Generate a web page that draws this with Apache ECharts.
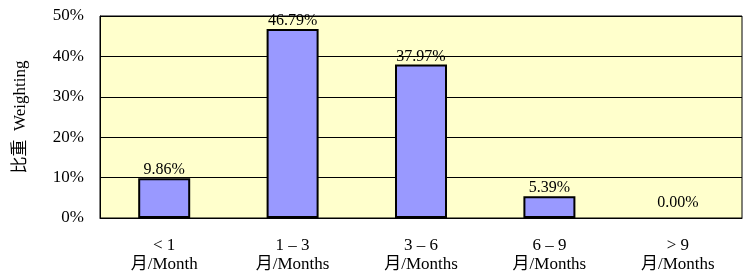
<!DOCTYPE html>
<html>
<head>
<meta charset="utf-8">
<script src="https://cdn.jsdelivr.net/npm/echarts@6/dist/echarts.min.js"></script>
<style>
  html, body { margin: 0; padding: 0; background: #fff; }
  #chart { width: 747px; height: 277px; }
</style>
</head>
<body>
<div id="chart"></div>
<script>
// 数据
const categories = ['< 1\n月/Month', '1 – 3\n月/Months', '3 – 6\n月/Months', '6 – 9\n月/Months', '> 9\n月/Months']
const weights = [9.86, 46.79, 37.97, 5.39, 0.00]
const yTicks = [0, 10, 20, 30, 40, 50]

const serif = '"Liberation Serif", "Times New Roman", "Noto Sans CJK SC", serif'

const chart = echarts.init(document.getElementById('chart'))

chart.setOption({
  animation: false,
  textStyle: { fontFamily: serif, color: '#000' },
  grid: {
    left: 100,
    right: 5,
    top: 16,
    bottom: 59,
    show: true,
    backgroundColor: '#FFFFCC',
    borderColor: '#000',
    borderWidth: 1
  },
  xAxis: {
    type: 'category',
    data: categories,
    axisLine: { lineStyle: { color: '#000', width: 1 } },
    axisTick: { inside: true, length: 5, lineStyle: { color: '#000' } },
    axisLabel: {
      color: '#000',
      fontFamily: serif,
      fontSize: 17,
      lineHeight: 19,
      margin: 18,
      interval: 0
    }
  },
  yAxis: {
    type: 'value',
    min: yTicks[0],
    max: yTicks[yTicks.length - 1],
    interval: 10,
    name: '比重  Weighting',
    nameLocation: 'middle',
    nameRotate: 90,
    nameGap: 71,
    nameTextStyle: { color: '#000', fontFamily: serif, fontSize: 17 },
    axisLine: { show: true, lineStyle: { color: '#000' } },
    axisTick: { show: false },
    axisLabel: {
      color: '#000',
      fontFamily: serif,
      fontSize: 17,
      margin: 16,
      formatter: '{value}%'
    },
    splitLine: { lineStyle: { color: '#000', width: 1 } }
  },
  series: [
    {
      type: 'bar',
      barWidth: 52,
      data: weights.map(v => ({
        value: v,
        itemStyle: v === 0 ? { borderWidth: 0 } : undefined,
        label: v === 0 ? { offset: [0, -7] } : undefined
      })),
      itemStyle: {
        color: '#9999FF',
        borderColor: '#000',
        borderWidth: 2
      },
      label: {
        show: true,
        position: 'top',
        distance: 0,
        color: '#000',
        fontFamily: serif,
        fontSize: 16,
        formatter: p => p.value.toFixed(2) + '%'
      }
    }
  ]
})
</script>
</body>
</html>
